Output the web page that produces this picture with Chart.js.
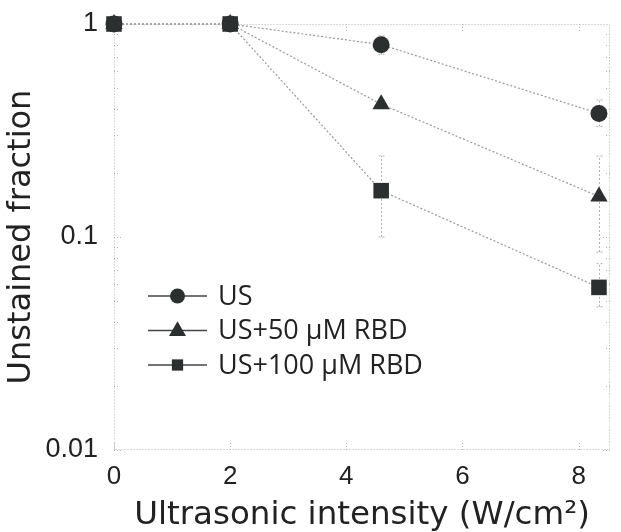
<!DOCTYPE html>
<html>
<head>
<meta charset="utf-8">
<script src="https://cdn.jsdelivr.net/npm/chart.js@4"></script>
<style>
  html, body { margin: 0; padding: 0; background: #fff; }
  #wrap { width: 621px; height: 532px; }
</style>
</head>
<body>
<div id="wrap"><canvas id="fracChart" width="621" height="532"></canvas></div>
<script>
// Data
const intensity = [0, 2, 4.6, 8.35];
const seriesNames = ['US', 'US+50 \u03bcM RBD', 'US+100 \u03bcM RBD'];
const usVals = [1, 1, 0.80, 0.38];
const rbd50Vals = [1, 1, 0.42, 0.155];
const rbd100Vals = [1, 1, 0.165, 0.058];
// error bar ranges (low / high)
const usLow = [1, 1, 0.72, 0.33];
const usHigh = [1, 1, 0.88, 0.44];
const rbd50Low = [1, 1, 0.40, 0.085];
const rbd50High = [1, 1, 0.44, 0.24];
const rbd100Low = [1, 1, 0.10, 0.047];
const rbd100High = [1, 1, 0.24, 0.075];
const yTicks = [0.01, 0.1, 1];
const xTicks = [0, 2, 4, 6, 8];

const markerColor = '#2b2f30';
const lineColor = '#999999';

function pts(vals, lo, hi) {
    return intensity.map((x, i) => ({ x: x, y: vals[i], lo: lo[i], hi: hi[i] }));
}

// error bars, drawn behind markers
const errorBars = {
    id: 'errorBars',
    beforeDatasetsDraw(chart) {
        const ctx = chart.ctx, xs = chart.scales.x, ys = chart.scales.y;
        ctx.save();
        ctx.strokeStyle = '#b0b0b0';
        ctx.lineWidth = 1;
        ctx.setLineDash([2, 2]);
        chart.data.datasets.forEach(ds => {
            ds.data.forEach(p => {
                if (p.lo === p.hi) return;
                const px = Math.round(xs.getPixelForValue(p.x)) + 0.5;
                const y1 = ys.getPixelForValue(p.lo), y2 = ys.getPixelForValue(p.hi);
                ctx.beginPath();
                ctx.moveTo(px, y1); ctx.lineTo(px, y2);
                ctx.moveTo(px - 3, y1); ctx.lineTo(px + 3, y1);
                ctx.moveTo(px - 3, y2); ctx.lineTo(px + 3, y2);
                ctx.stroke();
            });
        });
        ctx.restore();
    }
};

// dotted frame with inward ticks
const frame = {
    id: 'frame',
    beforeDatasetsDraw(chart) {
        const ctx = chart.ctx, a = chart.chartArea;
        const xs = chart.scales.x, ys = chart.scales.y;
        ctx.save();
        ctx.strokeStyle = '#b4b4b4';
        ctx.lineWidth = 1;
        ctx.setLineDash([1, 2]);
        ctx.strokeRect(a.left + 0.5, a.top + 0.5, a.right - a.left - 1, a.bottom - a.top - 1);
        ctx.beginPath();
        xTicks.forEach(v => {
            const px = Math.round(xs.getPixelForValue(v)) + 0.5;
            ctx.moveTo(px, a.bottom); ctx.lineTo(px, a.bottom - 8);
            ctx.moveTo(px, a.top); ctx.lineTo(px, a.top + 8);
        });
        for (let d = 0.01; d < 1; d *= 10) {
            for (let k = 1; k < 10; k++) {
                const py = Math.round(ys.getPixelForValue(d * k)) + 0.5;
                const len = k === 1 ? 8 : 4;
                ctx.moveTo(a.left, py); ctx.lineTo(a.left + len, py);
                ctx.moveTo(a.right, py); ctx.lineTo(a.right - len, py);
            }
        }
        ctx.stroke();
        ctx.restore();
    }
};

function marker(ctx, style, x, y, r) {
    ctx.beginPath();
    if (style === 'circle') {
        ctx.arc(x, y, r, 0, Math.PI * 2);
    } else if (style === 'triangle') {
        ctx.moveTo(x, y - r * 1.1);
        ctx.lineTo(x + r, y + r * 0.65);
        ctx.lineTo(x - r, y + r * 0.65);
        ctx.closePath();
    } else {
        ctx.rect(x - r * 0.75, y - r * 0.75, r * 1.5, r * 1.5);
    }
    ctx.fill();
}

// legend inside the plot: line with marker, then label
const innerLegend = {
    id: 'innerLegend',
    afterDatasetsDraw(chart) {
        const ctx = chart.ctx, a = chart.chartArea;
        ctx.save();
        chart.data.datasets.forEach((ds, i) => {
            const y = a.top + 272 + i * 34.5;
            const x0 = a.left + 34, x1 = a.left + 93;
            ctx.strokeStyle = '#444';
            ctx.lineWidth = 1.3;
            ctx.setLineDash([]);
            ctx.beginPath();
            ctx.moveTo(x0, y); ctx.lineTo(x1, y);
            ctx.stroke();
            ctx.fillStyle = markerColor;
            marker(ctx, ds.pointStyle, (x0 + x1) / 2, y, ds.pointStyle === 'triangle' ? 8.5 : 7.5);
            ctx.fillStyle = '#222';
            ctx.font = '27px "Open Sans"';
            ctx.textBaseline = 'middle';
            ctx.fillText(ds.label, a.left + 104, y + 1);
        });
        ctx.restore();
    }
};

const ctx = document.getElementById('fracChart').getContext('2d');
const lineStyle = {
    borderColor: lineColor,
    borderWidth: 1.2,
    borderDash: [2, 2],
    backgroundColor: markerColor,
    pointBackgroundColor: markerColor,
    pointBorderColor: markerColor,
    pointBorderWidth: 0,
    tension: 0,
    fill: false,
    clip: false
};

const fracChart = new Chart(ctx, {
    type: 'line',
    data: {
        datasets: [
            Object.assign({ label: seriesNames[0], data: pts(usVals, usLow, usHigh), pointStyle: 'circle', pointRadius: 8.5 }, lineStyle),
            Object.assign({ label: seriesNames[1], data: pts(rbd50Vals, rbd50Low, rbd50High), pointStyle: 'triangle', pointRadius: 10 }, lineStyle),
            Object.assign({ label: seriesNames[2], data: pts(rbd100Vals, rbd100Low, rbd100High), pointStyle: 'rect', pointRadius: 11 }, lineStyle)
        ]
    },
    options: {
        responsive: false,
        animation: false,
        layout: { padding: { top: 24, right: 4, left: 0, bottom: 0 } },
        plugins: { legend: { display: false }, tooltip: { enabled: false } },
        scales: {
            x: {
                type: 'linear',
                min: 0,
                max: 8.54,
                grid: { display: false },
                border: { display: false },
                afterBuildTicks: axis => { axis.ticks = xTicks.map(v => ({ value: v })); },
                afterFit: axis => { axis.height = 82; },
                ticks: {
                    padding: 6,
                    color: '#222',
                    font: { family: 'Liberation Sans', size: 26, lineHeight: 1 },
                    callback: v => String(v)
                },
                title: {
                    display: true,
                    text: 'Ultrasonic intensity (W/cm\u00b2)',
                    color: '#222',
                    font: { family: 'DejaVu Sans', size: 32.5, lineHeight: 1 },
                    padding: { top: 0, bottom: 0 }
                }
            },
            y: {
                type: 'logarithmic',
                min: 0.01,
                max: 1,
                grid: { display: false },
                border: { display: false },
                afterBuildTicks: axis => { axis.ticks = yTicks.map(v => ({ value: v })); },
                afterFit: axis => { axis.width = 114; },
                ticks: {
                    padding: 8,
                    color: '#222',
                    font: { family: 'Liberation Sans', size: 27, lineHeight: 1 },
                    callback: v => String(v)
                },
                title: {
                    display: true,
                    text: 'Unstained fraction',
                    color: '#222',
                    font: { family: 'DejaVu Sans', size: 32, lineHeight: 1 },
                    padding: { top: 6, bottom: 0 }
                }
            }
        }
    },
    plugins: [frame, errorBars, innerLegend]
});
</script>
</body>
</html>
